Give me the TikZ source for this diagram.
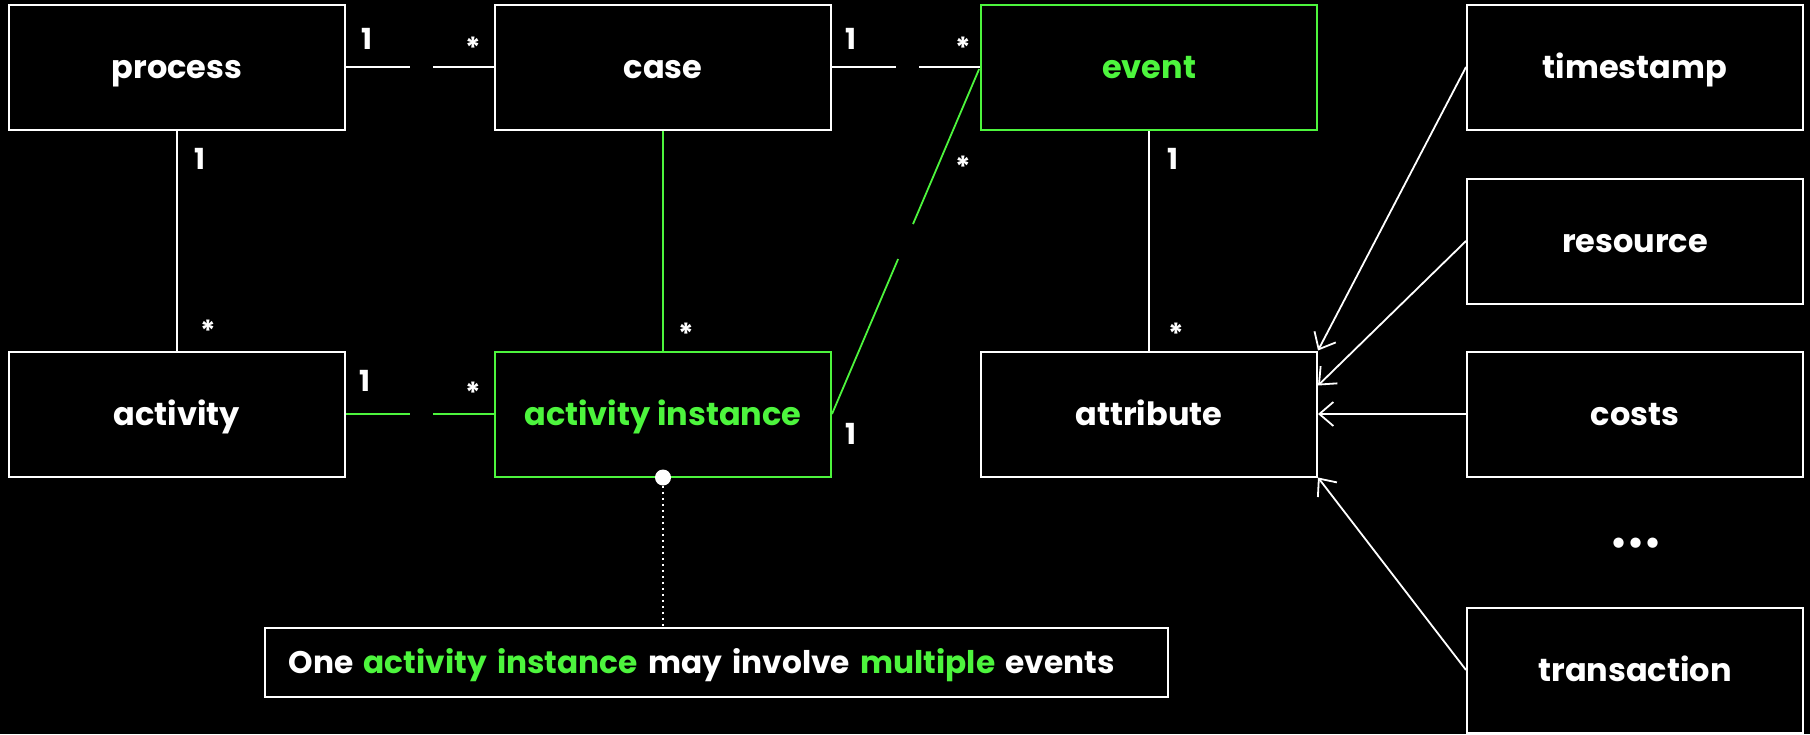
\documentclass[tikz,border=0pt]{standalone}
\usepackage{fontspec}
\setmainfont{Poppins}
\usetikzlibrary{arrows.meta}
\definecolor{brightgreen}{RGB}{77,245,61}
\tikzset{
	entity/.style={draw=white, line width=1pt, fill=black, text=white, font=\fontsize{16}{20}\selectfont\bfseries, text height=13pt, text depth=2pt, minimum width=168pt, minimum height=62.5pt, inner sep=0pt},
	keyentity/.style={entity, draw=brightgreen, text=brightgreen},
	mult/.style={text=white, font=\fontsize{14.5}{18}\selectfont\bfseries, inner sep=0pt},
	assoc/.style={draw=white, line width=0.9pt},
	keyassoc/.style={assoc, draw=brightgreen},
	attrarrow/.style={draw=white, line width=0.9pt, -{Straight Barb[length=7pt,width=12pt]}},
}
\begin{document}
\begin{tikzpicture}[x=0.5pt,y=-0.5pt]
	%set diagram to 1810 x 734
	\useasboundingbox (0,0) rectangle (1810,734);
	\fill[black] (0,0) rectangle (1810,734);
	
	%Shape: Rectangle [process]
	\node[entity] (process) at (177,67) {process};
	%Shape: Rectangle [case]
	\node[entity] (case) at (663,67) {case};
	%Shape: Rectangle [event]
	\node[keyentity] (event) at (1149,67) {event};
	%Shape: Rectangle [timestamp]
	\node[entity] (timestamp) at (1635,67) {timestamp};
	%Shape: Rectangle [resource]
	\node[entity] (resource) at (1635,241) {resource};
	%Shape: Rectangle [activity]
	\node[entity] (activity) at (177,414) {activity};
	%Shape: Rectangle [activity instance]
	\node[keyentity] (actinst) at (663,414) {activity instance};
	%Shape: Rectangle [attribute]
	\node[entity] (attribute) at (1149,414) {attribute};
	%Shape: Rectangle [costs]
	\node[entity] (costs) at (1635,414) {costs};
	% Text Node
	\node[mult, font=\fontsize{17}{20}\selectfont\bfseries] (moreattr) at (1636,546) {•••};
	%Shape: Rectangle [transaction]
	\node[entity] (transaction) at (1635,670) {transaction};
	
	%Straight Lines [process - case]
	\draw[assoc, dash pattern=on 32pt off 11.5pt] (process.east) -- (case.west);
	%Straight Lines [case - event]
	\draw[assoc, dash pattern=on 32pt off 11.5pt] (case.east) -- (event.west);
	%Straight Lines [process - activity]
	\draw[assoc] (process.south) -- (activity.north);
	%Straight Lines [activity - activity instance]
	\draw[keyassoc, dash pattern=on 32pt off 11.5pt] (activity.east) -- (actinst.west);
	%Straight Lines [case - activity instance]
	\draw[keyassoc] (case.south) -- (actinst.north);
	%Straight Lines [activity instance - event]
	\draw[keyassoc, dash pattern=on 84.25pt off 19pt] (actinst.east) -- (event.west);
	%Straight Lines [event - attribute]
	\draw[assoc] (event.south) -- (attribute.north);
	
	%Arrows to attribute
	\draw[attrarrow] (timestamp.west) -- (attribute.north east);
	\draw[attrarrow] (resource.west) -- ([yshift=-17.5pt]attribute.north east);
	\draw[attrarrow] (costs.west) -- (attribute.east);
	\draw[attrarrow] (transaction.west) -- (attribute.south east);
	
	% Text Node [multiplicities]
	\node[mult] (m1) at (367,39) {1};
	\node[mult] (m2) at (473,48) {*};
	\node[mult] (m3) at (851,39) {1};
	\node[mult] (m4) at (963,48) {*};
	\node[mult] (m5) at (200,159) {1};
	\node[mult] (m6) at (208,331) {*};
	\node[mult] (m7) at (365,381) {1};
	\node[mult] (m8) at (473,393) {*};
	\node[mult] (m9) at (686,334) {*};
	\node[mult] (m10) at (963,167) {*};
	\node[mult] (m11) at (851,434) {1};
	\node[mult] (m12) at (1173,159) {1};
	\node[mult] (m13) at (1176,334) {*};
	
	% Text Node [note]
	\node[draw=white, line width=1pt, fill=black, text=white, font=\fontsize{15.6}{20}\selectfont\bfseries, text height=13pt, text depth=2pt, text width=451.5pt, align=left, inner xsep=0pt, minimum height=34.5pt] (note) at (716,662) {\hspace*{12pt}One \textcolor{brightgreen}{activity instance} may involve \textcolor{brightgreen}{multiple} events};
	%Shape: Circle [note pin]
	\node[circle, fill=white, inner sep=0pt, minimum size=8pt] (pin) at (actinst.south) {};
	\draw[white, line width=1pt, dash pattern=on 1pt off 2pt] (pin) -- (pin |- note.north);
\end{tikzpicture}
\end{document}
